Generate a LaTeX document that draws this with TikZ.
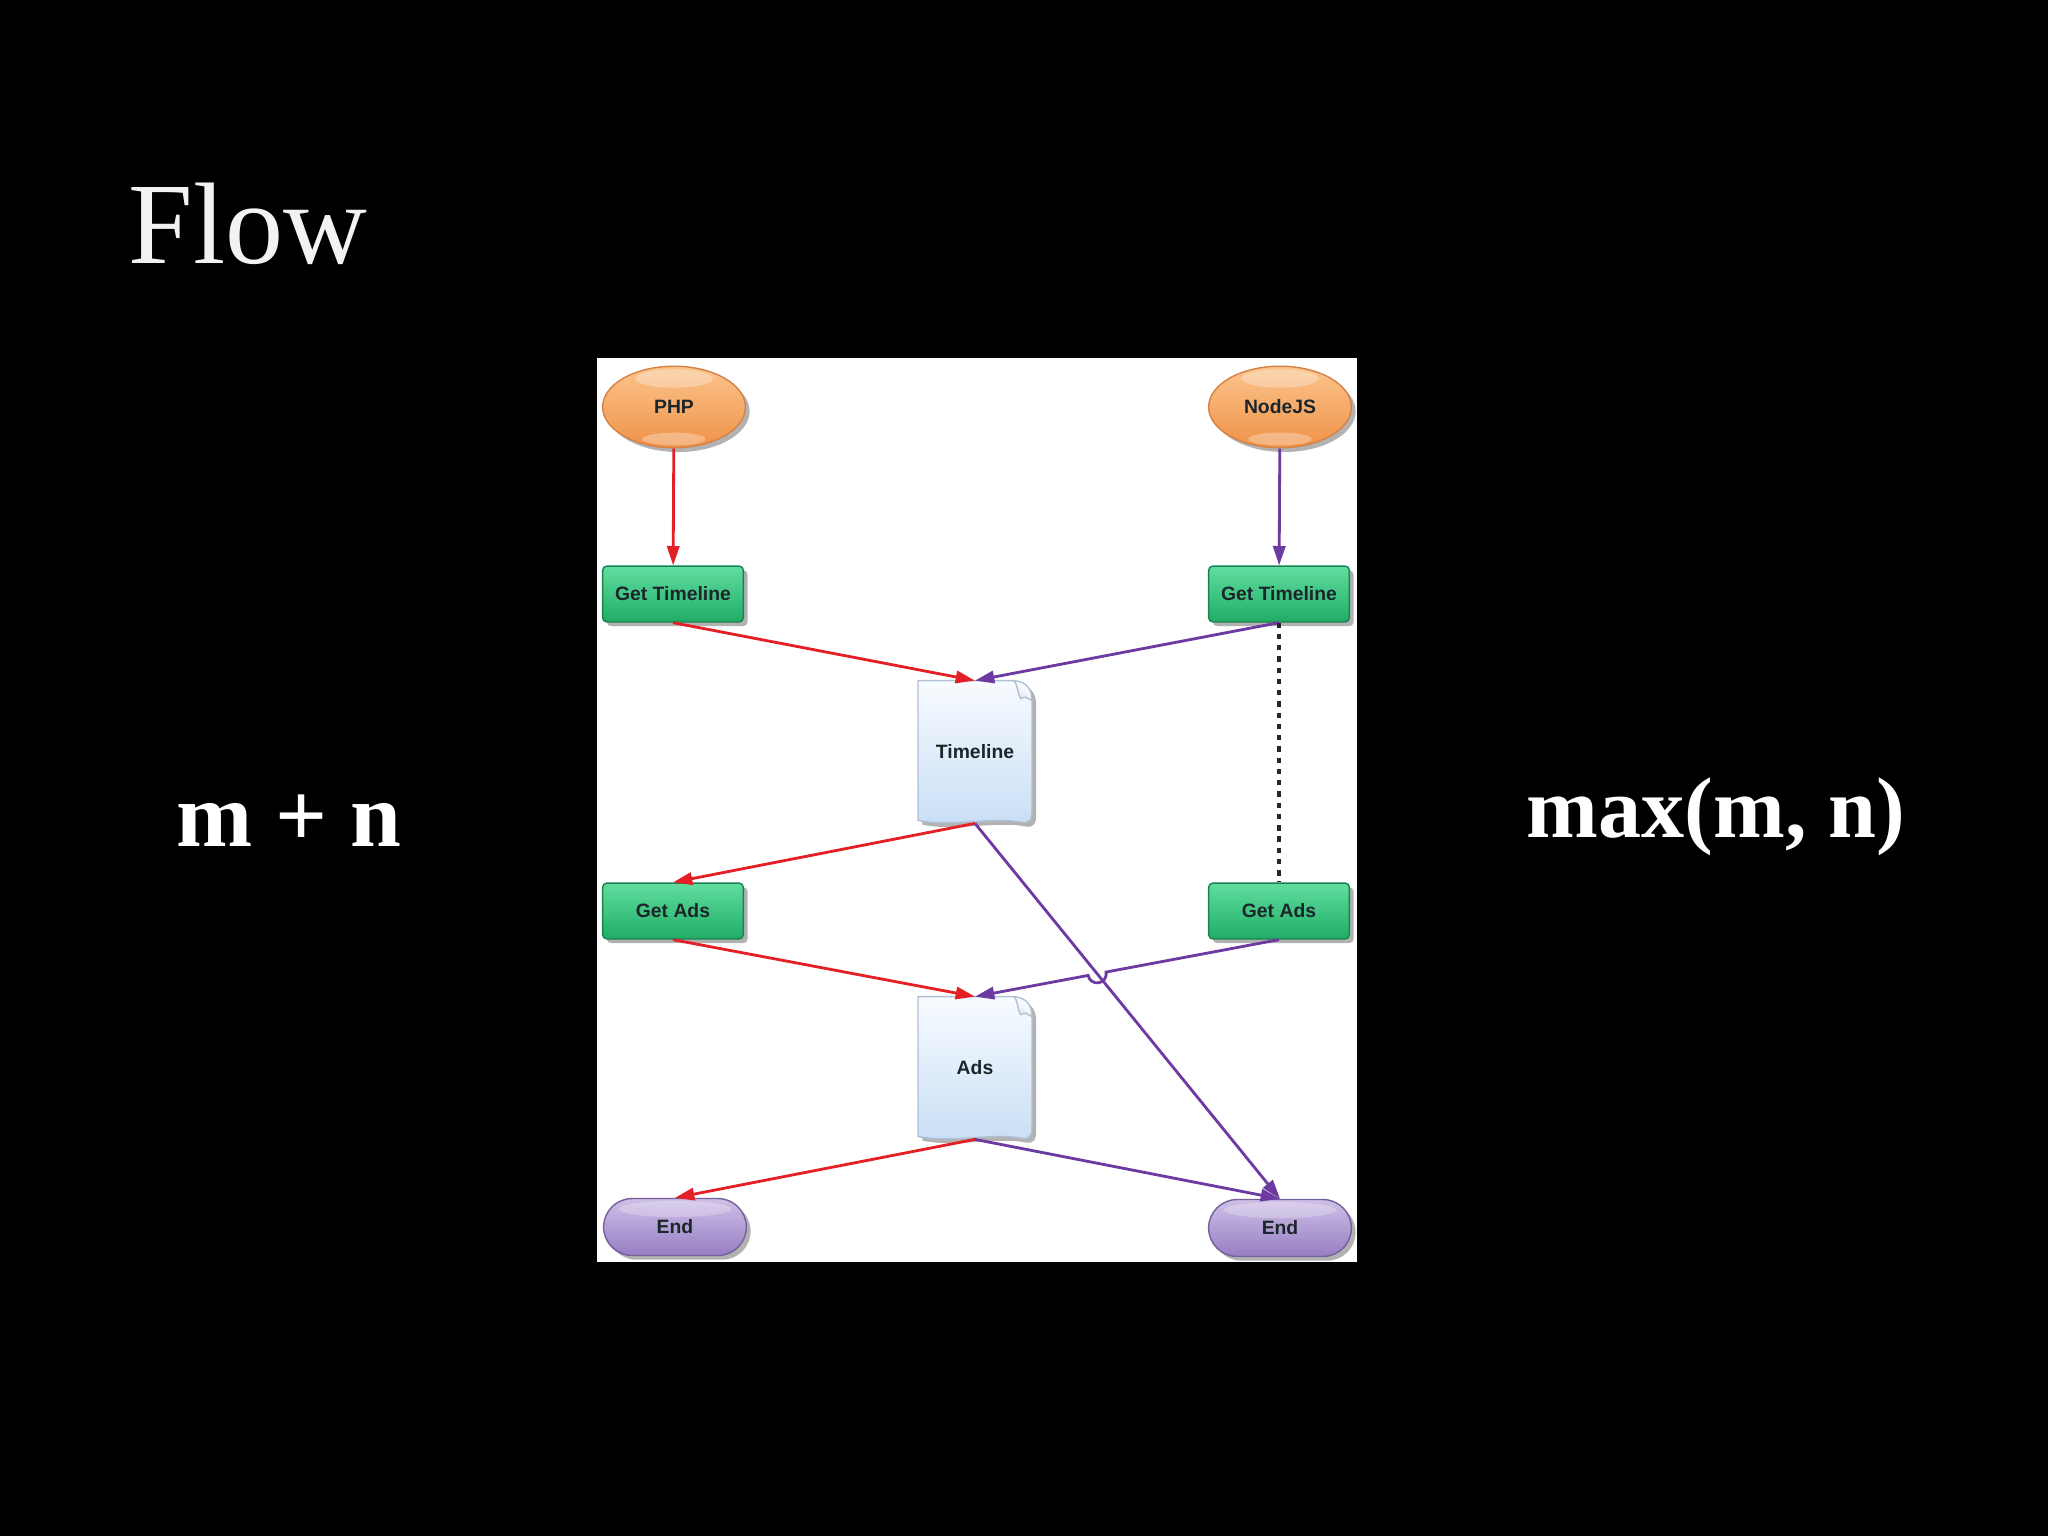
\documentclass[tikz,border=0pt]{standalone}
\usepackage{fontspec}
\setmainfont{Liberation Serif}
\setsansfont{Liberation Sans}
\usetikzlibrary{arrows.meta,shapes.geometric,shapes.misc,shadows,calc,intersections}

\definecolor{wirered}{RGB}{228,32,38}
\definecolor{wirepurple}{RGB}{108,58,160}
\definecolor{nodetext}{RGB}{28,38,42}
\definecolor{orangetop}{RGB}{251,196,140}
\definecolor{orangebot}{RGB}{240,146,72}
\definecolor{orangeedge}{RGB}{214,130,70}
\definecolor{greentop}{RGB}{96,222,160}
\definecolor{greenbot}{RGB}{32,172,102}
\definecolor{greenedge}{RGB}{24,130,80}
\definecolor{doctop}{RGB}{248,251,255}
\definecolor{docbot}{RGB}{200,222,245}
\definecolor{docedge}{RGB}{176,192,212}
\definecolor{endtop}{RGB}{206,192,230}
\definecolor{endbot}{RGB}{150,126,196}
\definecolor{endedge}{RGB}{118,96,156}

\pgfdeclarelayer{back}
\pgfdeclarelayer{page}
\pgfsetlayers{back,page,main}

\tikzset{
  softshadow/.style={drop shadow={shadow xshift=1.2pt, shadow yshift=-1.2pt, opacity=0.3, fill=black}},
  flownode/.style={font=\sffamily\bfseries\fontsize{5.5}{6.6}\selectfont, text=nodetext, thin, inner sep=0pt, softshadow},
  startnode/.style={flownode, ellipse, minimum width=40.6pt, minimum height=23.2pt,
    top color=orangetop, bottom color=orangebot, draw=orangeedge,
    path picture={\fill[white, opacity=0.3] ($(path picture bounding box.north)+(0,-3.5pt)$) ellipse[x radius=11pt, y radius=2.6pt];
                  \fill[white, opacity=0.3] ($(path picture bounding box.south)+(0,2.5pt)$) ellipse[x radius=9pt, y radius=1.8pt];}},
  stepbox/.style={flownode, rectangle, rounded corners=1.2pt, minimum width=40pt, minimum height=15.9pt,
    top color=greentop, bottom color=greenbot, draw=greenedge},
  docbox/.style={font=\sffamily\bfseries\fontsize{5.5}{6.6}\selectfont, text=nodetext, inner sep=0pt,
    minimum width=32pt, minimum height=40.2pt},
  endnode/.style={flownode, rounded rectangle, minimum width=40.6pt, minimum height=16.2pt,
    top color=endtop, bottom color=endbot, draw=endedge,
    path picture={\fill[white, opacity=0.25] ($(path picture bounding box.north)+(0,-3pt)$) ellipse[x radius=16pt, y radius=2.3pt];}},
  redline/.style={draw=wirered, line width=0.8pt, -{Triangle[length=5.5pt, width=3.5pt]}},
  purpleline/.style={draw=wirepurple, line width=0.8pt, -{Triangle[length=5.5pt, width=3.5pt]}},
  waitline/.style={draw=black!85, line width=1pt, dash pattern=on 1.5pt off 1.7pt},
  bigtext/.style={text=white, inner sep=0pt, anchor=base west}
}

\newcommand{\docpage}[1]{%
  \shade[top color=doctop, bottom color=docbot, draw=docedge, thin, softshadow]
    (#1.north west) -- ($(#1.north east)+(-18,0)$)
    .. controls ($(#1.north east)+(-6,1)$) and ($(#1.north east)+(0,8)$) .. ($(#1.north east)+(0,20)$)
    -- ($(#1.south east)+(0,-14)$)
    .. controls ($(#1.south east)+(0,-4)$) and ($(#1.south east)+(-2,0)$) .. ($(#1.south east)+(-10,-1)$)
    .. controls ($(#1.south)+(20,-7)$) and ($(#1.south)+(-25,4)$) .. ($(#1.south west)+(0,-3)$)
    -- cycle;
  \shade[top color=white, bottom color=black!10, draw=docedge, thin]
    ($(#1.north east)+(-18,0)$) .. controls ($(#1.north east)+(-13,6)$) and ($(#1.north east)+(-15,14)$) .. ($(#1.north east)+(-11,18)$)
    .. controls ($(#1.north east)+(-7,16)$) .. ($(#1.north east)+(0,20)$);
}

\begin{document}
\begin{tikzpicture}[x=0.01cm, y=-0.01cm]
  \useasboundingbox (0,0) rectangle (2048,1536);
  \begin{pgfonlayer}{back}
    \fill[black] (0,0) rectangle (2048,1536);
    \fill[white] (597,358) rectangle (1357,1262);
  \end{pgfonlayer}

  \node[bigtext, text=white!90!gray, font=\fontsize{33}{40}\selectfont] (title) at (128,263) {Flow};
  \node[bigtext, font=\bfseries\fontsize{26}{31}\selectfont] (sum) at (176,846) {m + n};
  \node[bigtext, font=\bfseries\fontsize{24.5}{29}\selectfont] (max) at (1526,837) {max(m, n)};

  \node[startnode] (php) at (674,407) {PHP};
  \node[startnode] (nodejs) at (1280,407) {NodeJS};
  \node[stepbox] (phpTL) at (673,594) {Get Timeline};
  \node[stepbox] (nodeTL) at (1279,594) {Get Timeline};
  \node[docbox] (timeline) at (975,752) {Timeline};
  \node[stepbox] (phpAds) at (673,911) {Get Ads};
  \node[stepbox] (nodeAds) at (1279,911) {Get Ads};
  \node[docbox] (ads) at (975,1068) {Ads};
  \node[endnode] (phpEnd) at (675,1227) {End};
  \node[endnode] (nodeEnd) at (1280,1228) {End};

  \begin{pgfonlayer}{page}
    \docpage{timeline}
    \docpage{ads}
  \end{pgfonlayer}

  \draw[redline] (php) -- (phpTL);
  \draw[redline] (phpTL.south) -- (timeline.north);
  \draw[redline] (timeline.south) -- (phpAds.north);
  \draw[redline] (phpAds.south) -- (ads.north);
  \draw[redline] (ads.south) -- (phpEnd.north);

  \draw[purpleline] (nodejs) -- (nodeTL);
  \draw[purpleline] (nodeTL.south) -- (timeline.north);
  \draw[waitline] (nodeTL.south) -- (nodeAds.north);
  \draw[purpleline, name path=tl2end] (timeline.south) -- (nodeEnd.north);
  \path[name path=ga2ads] (nodeAds.south) -- (ads.north);
  \path[name intersections={of=tl2end and ga2ads, by=hop}];
  \draw[purpleline] let \p1=($(nodeAds.south)-(hop)$), \n1={atan2(\y1,\x1)} in
    (nodeAds.south) -- ($(hop)!2.6pt!(nodeAds.south)$)
    arc[start angle=\n1, delta angle=-180, radius=2.6pt] -- (ads.north);
  \draw[purpleline] (ads.south) -- (nodeEnd.north);
\end{tikzpicture}
\end{document}
